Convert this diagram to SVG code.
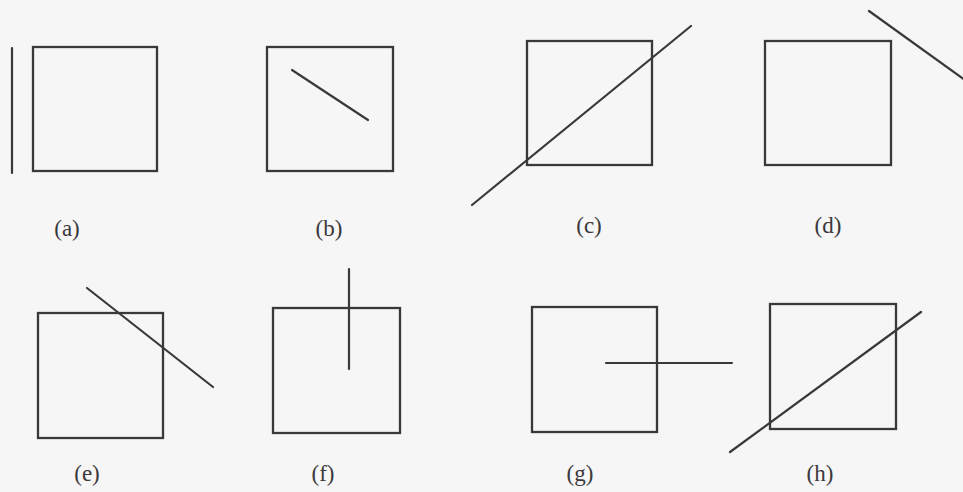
<svg xmlns="http://www.w3.org/2000/svg" width="963" height="492" viewBox="0 0 963 492">
<style>
.sq{fill:none;stroke:#3b383b;stroke-width:2.3}
.ln{stroke:#3b383b;stroke-width:2.2;stroke-linecap:round;fill:none}
.lb{font-family:"Liberation Serif","Times New Roman",serif;font-size:23px;fill:#3b383b;text-anchor:middle}
</style>
<rect x="0" y="0" width="963" height="492" fill="#f6f6f7"/>
<g id="fig-a">
<rect class="sq" x="33" y="47" width="124" height="124"/>
<line class="ln" x1="12" y1="48" x2="12" y2="173"/>
<text class="lb" x="67" y="236">(a)</text>
</g>
<g id="fig-b">
<rect class="sq" x="267" y="47" width="126" height="124"/>
<line class="ln" x1="292" y1="70" x2="368" y2="120"/>
<text class="lb" x="329" y="236">(b)</text>
</g>
<g id="fig-c">
<rect class="sq" x="527" y="41" width="125" height="124"/>
<line class="ln" x1="472" y1="205" x2="691" y2="26"/>
<text class="lb" x="589" y="233">(c)</text>
</g>
<g id="fig-d">
<rect class="sq" x="765" y="41" width="126" height="124"/>
<line class="ln" x1="869" y1="11" x2="965" y2="80"/>
<text class="lb" x="828" y="233">(d)</text>
</g>
<g id="fig-e">
<rect class="sq" x="38" y="313" width="125" height="125"/>
<line class="ln" x1="87" y1="288" x2="213" y2="387"/>
<text class="lb" x="87" y="481">(e)</text>
</g>
<g id="fig-f">
<rect class="sq" x="273" y="308" width="127" height="125"/>
<line class="ln" x1="349" y1="269" x2="349" y2="369"/>
<text class="lb" x="323" y="481">(f)</text>
</g>
<g id="fig-g">
<rect class="sq" x="532" y="307" width="125" height="125"/>
<line class="ln" x1="606" y1="363" x2="732" y2="363"/>
<text class="lb" x="580" y="481">(g)</text>
</g>
<g id="fig-h">
<rect class="sq" x="770" y="304" width="126" height="125"/>
<line class="ln" x1="730" y1="452" x2="921" y2="312"/>
<text class="lb" x="820" y="481">(h)</text>
</g>
</svg>
